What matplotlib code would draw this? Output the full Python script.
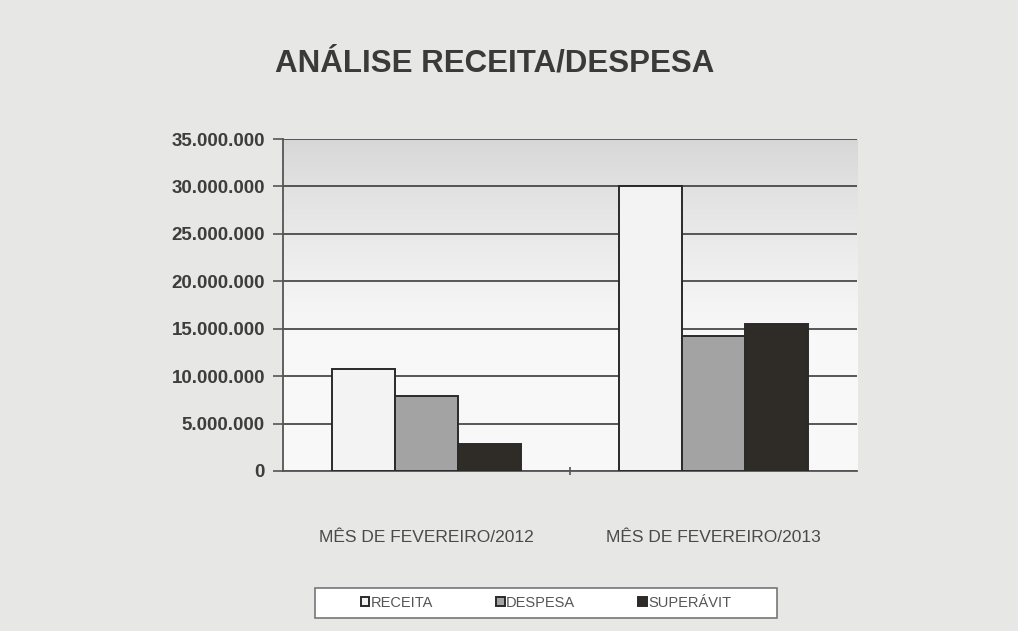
import matplotlib.pyplot as plt
import numpy as np
from matplotlib.ticker import FuncFormatter
from matplotlib.patches import Rectangle

plt.rcParams['font.family'] = ['Liberation Sans', 'DejaVu Sans']

# data
categories = ['MÊS DE FEVEREIRO/2012', 'MÊS DE FEVEREIRO/2013']
series = ['RECEITA', 'DESPESA', 'SUPERÁVIT']
receita = [10.8e6, 30.0e6]
despesa = [7.9e6, 14.2e6]
superavit = [2.8e6, 15.5e6]
yticks = [0, 5e6, 10e6, 15e6, 20e6, 25e6, 30e6, 35e6]

colors = ['#f3f3f3', '#a3a3a3', '#2f2b27']

fig = plt.figure(figsize=(10.18, 6.31), dpi=100, facecolor='#e7e7e5')
ax = fig.add_axes([0.278, 0.2536, 0.564, 0.526])

# plot area background: grey band at the top fading to near white lower down
top = np.array([0.84, 0.84, 0.84])
bottom = np.array([0.975, 0.975, 0.975])
t = np.clip(np.linspace(0, 1, 256) / 0.6, 0, 1) ** 0.8
bg = top[None, :] * (1 - t[:, None]) + bottom[None, :] * t[:, None]
ax.imshow(bg[:, None, :], aspect='auto', extent=[0, 1, 0, 1],
          transform=ax.transAxes, zorder=0, origin='upper')

x = np.arange(len(categories))
w = 0.22
for i, vals in enumerate([receita, despesa, superavit]):
    ax.bar(x + (i - 1) * w, vals, w, color=colors[i], edgecolor='#2a2a2a',
           linewidth=1.4, label=series[i], zorder=3)

ax.set_xlim(-0.5, 1.5)
ax.set_ylim(0, 35e6)
ax.set_yticks(yticks)
ax.yaxis.set_major_formatter(FuncFormatter(lambda v, p: f'{int(v):,}'.replace(',', '.')))
ax.grid(axis='y', color='#4a4a4a', linewidth=1.3, zorder=1)
ax.set_axisbelow(True)

ax.set_xticks([0.5])
ax.set_xticklabels([''])
for i, c in enumerate(categories):
    ax.text(x[i], -0.2, c, transform=ax.get_xaxis_transform(), ha='center', va='center',
            fontsize=12.5, color='#4a4a4a')

for s in ['top', 'right']:
    ax.spines[s].set_visible(False)
ax.spines['left'].set_color('#555555')
ax.spines['bottom'].set_color('#555555')
ax.spines['left'].set_linewidth(1.3)
ax.spines['bottom'].set_linewidth(1.3)
ax.tick_params(axis='y', length=7, width=1.2, color='#555555', labelsize=13.5,
               labelcolor='#3d3d3d', pad=6)
ax.tick_params(axis='x', length=6, width=1.2, color='#555555', direction='inout')
for lbl in ax.get_yticklabels():
    lbl.set_fontweight('bold')

fig.text(0.27, 0.9, 'ANÁLISE RECEITA/DESPESA', fontsize=22.5, fontweight='bold',
         color='#3a3a3a', ha='left', va='center')

# legend box
fig.patches.append(Rectangle((315 / 1018, 1 - 618 / 631), 462 / 1018, 30 / 631,
                             transform=fig.transFigure, facecolor='white',
                             edgecolor='#777777', linewidth=1.2, zorder=1))
leg = fig.legend(loc='center', bbox_to_anchor=(546 / 1018, 1 - 603 / 631), ncol=3,
                 fontsize=10.5, frameon=False, handlelength=0.6, handleheight=0.6,
                 handletextpad=0.1, columnspacing=4.3)
leg.set_zorder(2)
for t in leg.get_texts():
    t.set_color('#555555')

fig.savefig('out.png', dpi=100, facecolor=fig.get_facecolor())
